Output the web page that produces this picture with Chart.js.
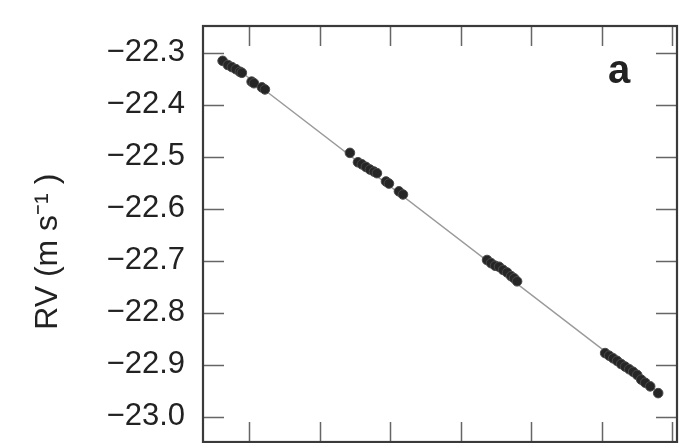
<!DOCTYPE html>
<html>
<head>
<meta charset="utf-8">
<script src="https://cdn.jsdelivr.net/npm/chart.js@4/dist/chart.umd.min.js"></script>
<style>
  html, body { margin: 0; padding: 0; background: #fff; }
  #wrap { width: 693px; height: 443px; }
</style>
</head>
<body>
<div id="wrap"><canvas id="rv-canvas" width="693" height="443"></canvas></div>
<script>
// observation epochs (arbitrary units, one per x tick) and radial velocities
let obsTime = [
    -0.377, -0.302, -0.245, -0.189, -0.132, -0.104, 0.034, 0.067, 0.180, 0.223,
    1.428, 1.542, 1.598, 1.655, 1.712, 1.769, 1.811, 1.939, 1.981, 2.123, 2.180,
    3.372, 3.429, 3.486, 3.542, 3.599, 3.656, 3.713, 3.755, 3.798,
    5.046, 5.103, 5.160, 5.216, 5.273, 5.330, 5.387, 5.443, 5.500, 5.557, 5.614, 5.685, 5.798
];
let obsRV = [
    -22.316, -22.324, -22.328, -22.332, -22.337, -22.339, -22.356, -22.359, -22.367, -22.371,
    -22.493, -22.511, -22.515, -22.520, -22.525, -22.529, -22.532, -22.548, -22.552, -22.567, -22.573,
    -22.699, -22.705, -22.710, -22.712, -22.718, -22.723, -22.730, -22.734, -22.740,
    -22.878, -22.883, -22.888, -22.893, -22.899, -22.904, -22.909, -22.914, -22.920, -22.929, -22.935, -22.942, -22.955
];

// linear fit end points
let fitTime = [-0.377, 5.798];
let fitRV = [-22.310, -22.953];

let xTicks = [0, 1, 2, 3, 4, 5, 6];
let yTicks = [-22.3, -22.4, -22.5, -22.6, -22.7, -22.8, -22.9, -23.0];

let panelLabel = 'a';

function toPoints(xs, ys) {
    let pts = [];
    for (let i = 0; i < xs.length; i++) {
        pts.push({x: xs[i], y: ys[i]});
    }
    return pts;
}

// force the plot box to where the figure has it
let areaPlugin = {
    id: 'areaPlugin',
    afterLayout(chart) {
        let a = chart.chartArea;
        a.top = 26;
        a.bottom = 442;
        a.left = 203;
        a.right = 677;
        a.width = a.right - a.left;
        a.height = a.bottom - a.top;
        let xs = chart.scales.x;
        let ys = chart.scales.y;
        xs.left = a.left; xs.right = a.right; xs.width = a.width;
        ys.top = a.top; ys.bottom = a.bottom; ys.height = a.height;
        ys.configure();
        xs.configure();
    }
};

// frame + inward ticks + panel letter
let framePlugin = {
    id: 'framePlugin',
    afterDraw(chart) {
        let ctx = chart.ctx;
        let a = chart.chartArea;
        let xs = chart.scales.x;
        let ys = chart.scales.y;
        ctx.save();
        ctx.strokeStyle = '#666';
        ctx.lineWidth = 1.5;
        ctx.beginPath();
        for (let i = 0; i < yTicks.length; i++) {
            let py = Math.round(ys.getPixelForValue(yTicks[i])) + 0.5;
            ctx.moveTo(a.left, py); ctx.lineTo(a.left + 21, py);
            ctx.moveTo(a.right, py); ctx.lineTo(a.right - 21, py);
        }
        for (let i = 0; i < xTicks.length; i++) {
            let px = Math.round(xs.getPixelForValue(xTicks[i])) + 0.5;
            ctx.moveTo(px, a.top); ctx.lineTo(px, a.top + 20);
            ctx.moveTo(px, a.bottom); ctx.lineTo(px, a.bottom - 20);
        }
        ctx.stroke();
        ctx.strokeStyle = '#3a3a3a';
        ctx.lineWidth = 2.2;
        ctx.strokeRect(a.left, a.top, a.right - a.left, a.bottom - a.top);
        ctx.fillStyle = '#222';
        ctx.font = 'bold 40px "Liberation Sans", Arial, sans-serif';
        ctx.textAlign = 'left';
        ctx.textBaseline = 'alphabetic';
        ctx.fillText(panelLabel, a.right - 69, a.top + 57);
        ctx.restore();
    }
};

let config_rv = {
    type: 'scatter',
    data: {
        datasets: [{
            label: 'fit',
            data: toPoints(fitTime, fitRV),
            showLine: true,
            borderColor: '#9a9a9a',
            borderWidth: 1.5,
            pointRadius: 0,
            fill: false,
            tension: 0,
            order: 2
        }, {
            label: 'RV',
            data: toPoints(obsTime, obsRV),
            backgroundColor: '#262626',
            borderColor: '#4a4a4a',
            borderWidth: 1,
            pointRadius: 4.8,
            order: 1
        }]
    },
    options: {
        responsive: false,
        animation: false,
        layout: {padding: {left: 25, top: 26, right: 16, bottom: 1}},
        plugins: {
            legend: {display: false},
            tooltip: {enabled: false}
        },
        scales: {
            x: {
                type: 'linear',
                display: false,
                min: -0.655,
                max: 6.065
            },
            y: {
                type: 'linear',
                min: -23.049,
                max: -22.249,
                afterBuildTicks: function (scale) {
                    scale.ticks = yTicks.map(v => ({value: v}));
                },
                afterFit: function (scale) {
                    scale.width = 178;
                    scale.paddingTop = 0;
                    scale.paddingBottom = 0;
                },
                grid: {display: false, drawTicks: false},
                border: {display: false},
                ticks: {
                    padding: 18,
                    color: '#222',
                    font: {family: '"Liberation Sans", Arial, sans-serif', size: 31},
                    callback: function (v) {
                        return (v < 0 ? '\u2212' : '') + Math.abs(v).toFixed(1);
                    }
                },
                title: {
                    display: true,
                    text: 'RV (m s\u207B\u00B9 )    ',
                    color: '#222',
                    padding: {top: 4, bottom: 0},
                    font: {family: '"Liberation Sans", Arial, sans-serif', size: 32}
                }
            }
        }
    },
    plugins: [areaPlugin, framePlugin]
};

let rvChart = new Chart(document.getElementById('rv-canvas'), config_rv);
</script>
</body>
</html>
